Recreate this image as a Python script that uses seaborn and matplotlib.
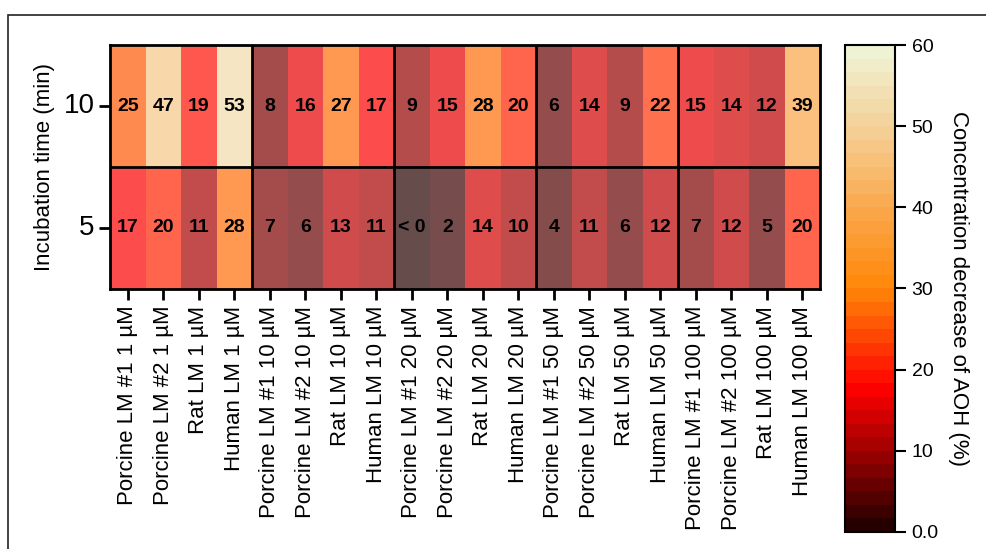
import numpy as np
import pandas as pd
import matplotlib
matplotlib.use("Agg")
import matplotlib.pyplot as plt
from matplotlib.colors import LinearSegmentedColormap, Normalize
from matplotlib.cm import ScalarMappable
from matplotlib.patches import Rectangle
import seaborn as sns

# ---- data -------------------------------------------------------------
sources = ["Porcine LM #1", "Porcine LM #2", "Rat LM", "Human LM"]
concentrations = ["1 µM", "10 µM", "20 µM", "50 µM", "100 µM"]
times = ["10", "5"]

decrease_10min = [25, 47, 19, 53, 8, 16, 27, 17, 9, 15, 28, 20, 6, 14, 9, 22, 15, 14, 12, 39]
decrease_5min = [17, 20, 11, 28, 7, 6, 13, 11, -1, 2, 14, 10, 4, 11, 6, 12, 7, 12, 5, 20]

cbar_ticks = [0, 10, 20, 30, 40, 50, 60]
cbar_ticklabels = ["0.0", "10", "20", "30", "40", "50", "60"]

columns = [f"{s} {c}" for c in concentrations for s in sources]
values = pd.DataFrame([decrease_10min, decrease_5min], index=times, columns=columns)
labels = values.map(lambda v: "< 0" if v < 0 else f"{v:d}")

# ---- style ------------------------------------------------------------
sns.set_theme(style="white")
plt.rcParams["font.family"] = ["Liberation Sans", "DejaVu Sans"]
for key in ("text.color", "axes.labelcolor", "xtick.color", "ytick.color"):
    plt.rcParams[key] = "black"

heat = LinearSegmentedColormap.from_list(
    "heat_cream",
    [
        (0.00, (0.15, 0.00, 0.00)),
        (0.15, (0.60, 0.00, 0.00)),
        (0.29, (1.00, 0.00, 0.00)),
        (0.50, (1.00, 0.53, 0.03)),
        (0.67, (0.98, 0.66, 0.30)),
        (0.83, (0.96, 0.81, 0.58)),
        (1.00, (0.94, 0.95, 0.83)),
    ],
    N=36,
)
norm = Normalize(vmin=0, vmax=60)

fig = plt.figure(figsize=(9.87, 5.49), dpi=100)
ax = fig.add_axes([0.1115, 0.4736, 0.7193, 0.4444])
cax = fig.add_axes([0.8561, 0.031, 0.0507, 0.887])

sns.heatmap(
    values,
    ax=ax,
    cmap=heat,
    vmin=0,
    vmax=60,
    alpha=0.7,
    annot=labels,
    fmt="",
    annot_kws={"fontsize": 14, "fontweight": "bold", "color": "black"},
    cbar=False,
    linewidths=0,
)

# group separators per concentration and between incubation times
for x in range(4, len(columns), 4):
    ax.axvline(x, color="black", lw=2)
ax.axhline(1, color="black", lw=2)
for sp in ax.spines.values():
    sp.set_visible(True)
    sp.set_color("black")
    sp.set_linewidth(2)

ax.set_xlabel("")
ax.set_ylabel("Incubation time (min)", fontsize=16, labelpad=6)
ax.tick_params(axis="x", bottom=True, length=8, width=2, color="black",
               labelcolor="black", labelsize=16, pad=4, labelrotation=90)
ax.tick_params(axis="y", left=True, length=8, width=2, color="black",
               labelcolor="black", labelsize=20, pad=3, labelrotation=0)

# colour scale
cb = fig.colorbar(ScalarMappable(norm=norm, cmap=heat), cax=cax)
cb.set_ticks(cbar_ticks)
cb.set_ticklabels(cbar_ticklabels)
cb.outline.set_linewidth(1.5)
cb.outline.set_edgecolor("black")
cax.tick_params(length=8, width=1.5, color="black", labelcolor="black",
                labelsize=14, pad=4, right=True)
cb.set_label("Concentration decrease of AOH (%)", fontsize=16, rotation=270,
             labelpad=22, color="black")

# figure frame
fig.patches.append(Rectangle((8 / 987, -0.2), 1.2, 1.2 - 15 / 549,
                             transform=fig.transFigure, fill=False,
                             edgecolor="#222222", lw=1.2, clip_on=False))

fig.savefig("out.png", dpi=100)
